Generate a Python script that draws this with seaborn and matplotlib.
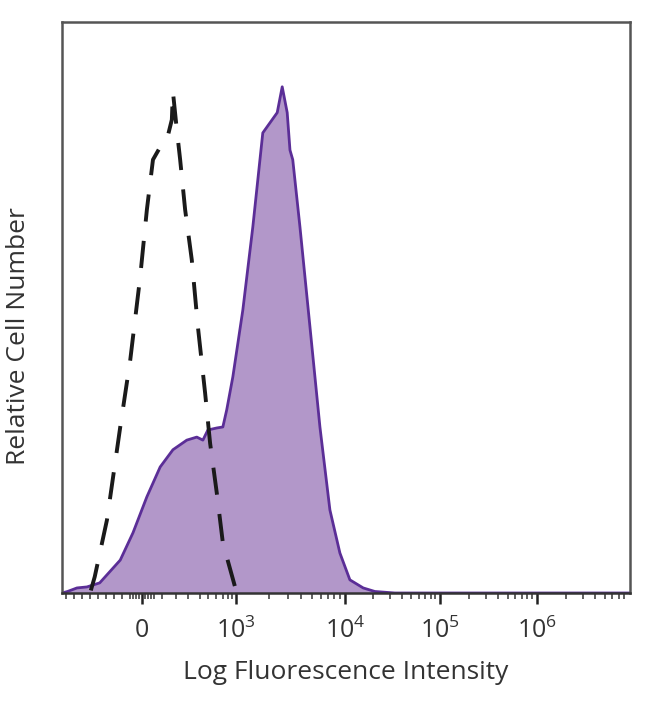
import numpy as np
import pandas as pd
import matplotlib
matplotlib.use("Agg")
import matplotlib.pyplot as plt
import seaborn as sns

# ---- data (x in display channel units 0-1024, y relative count, peak = 100) ----
stain_x = [0, 10, 27, 45, 68, 105, 128, 153, 177, 200, 225, 243, 254, 263, 279, 290,
           297, 308, 326, 344, 362, 375, 388, 397, 406, 411, 416, 429, 447, 465, 483,
           501, 519, 543, 564, 600, 1024]
stain_y = [0.0, 0.3, 1.0, 1.2, 2.0, 6.5, 11.9, 19.0, 24.9, 28.3, 30.2, 30.8, 30.2, 32.2,
           32.6, 32.8, 36.2, 42.7, 55.9, 72.3, 90.9, 92.9, 94.9, 100.0, 94.9, 87.5, 85.6,
           72.3, 52.6, 32.8, 16.4, 7.9, 2.6, 1.0, 0.3, 0.0, 0.0]

iso_x = [52, 59, 81, 105, 123, 141, 153, 164, 177, 189, 198, 200, 207, 213, 222, 234,
         245, 258, 267, 279, 290, 312, 317]
iso_y = [0.5, 3.2, 14.4, 32.8, 46.0, 62.5, 75.7, 85.6, 88.1, 89.5, 93.5, 99.0, 91.5,
         85.6, 75.7, 65.8, 52.6, 39.5, 29.6, 19.8, 9.9, 1.2, 0.0]

tick_labels = ["0", "$10^3$", "$10^4$", "$10^5$", "$10^6$"]
tick_channels = [144, 313, 510, 681, 856]

x_label = "Log Fluorescence Intensity"
y_label = "Relative Cell Number"

# ---- style ----
sns.set_style("white")
plt.rcParams["font.family"] = ["Open Sans", "DejaVu Sans"]
plt.rcParams["font.weight"] = "medium"
plt.rcParams["mathtext.fontset"] = "custom"
plt.rcParams["mathtext.rm"] = "Open Sans:medium"
plt.rcParams["mathtext.it"] = "Open Sans:medium"
plt.rcParams["mathtext.default"] = "regular"

fig = plt.figure(figsize=(6.5, 7.04), dpi=100)
ax = fig.add_axes([62 / 650, 1 - 593 / 704, (630 - 62) / 650, (593 - 22) / 704])

stain = pd.DataFrame({"x": stain_x, "y": stain_y})
iso = pd.DataFrame({"x": iso_x, "y": iso_y})

fill_col = "#B297C9"
line_col = "#5B2E97"
ax.fill_between(stain["x"], 0, stain["y"], color=fill_col, linewidth=0, zorder=1)
sns.lineplot(data=stain, x="x", y="y", ax=ax, color=line_col, linewidth=2.0,
             sort=False, estimator=None, zorder=2)
sns.lineplot(data=iso, x="x", y="y", ax=ax, color="#1a1a1a", linewidth=2.8,
             sort=False, estimator=None, zorder=3, dashes=False)
ax.lines[-1].set_dashes([7, 5])

ax.set_xlim(0, 1024)
ax.set_ylim(0, 112.8)

# ticks
ax.set_xticks(tick_channels)
ax.set_xticklabels(tick_labels, fontsize=18, color="#333333")
minor = []
minor += list(np.arange(7, 120, 14.5))
minor += list(np.arange(122, 170, 5.5))
minor += [180, 205, 228, 248, 264, 278, 290, 300, 307]
decades = [(313, 197), (510, 171), (681, 175), (856, 175)]
for start, width in decades:
    for k in range(2, 10):
        p = start + width * np.log10(k)
        if p < 1022:
            minor.append(p)
ax.set_xticks(minor, minor=True)
ax.tick_params(axis="x", which="major", direction="out", length=8, width=1.8,
               color="#222222", bottom=True, pad=10)
ax.tick_params(axis="x", which="minor", direction="out", length=4, width=1.2,
               color="#444444", bottom=True)
ax.set_yticks([])

for s in ax.spines.values():
    s.set_color("#555555")
    s.set_linewidth(1.8)
ax.spines["bottom"].set_color("#333333")

ax.set_xlabel(x_label, fontsize=19, color="#333333", labelpad=11)
ax.set_ylabel(y_label, fontsize=19, color="#333333")
ax.yaxis.set_label_coords(-0.055, 0.45)

fig.savefig("out.png", dpi=100)
